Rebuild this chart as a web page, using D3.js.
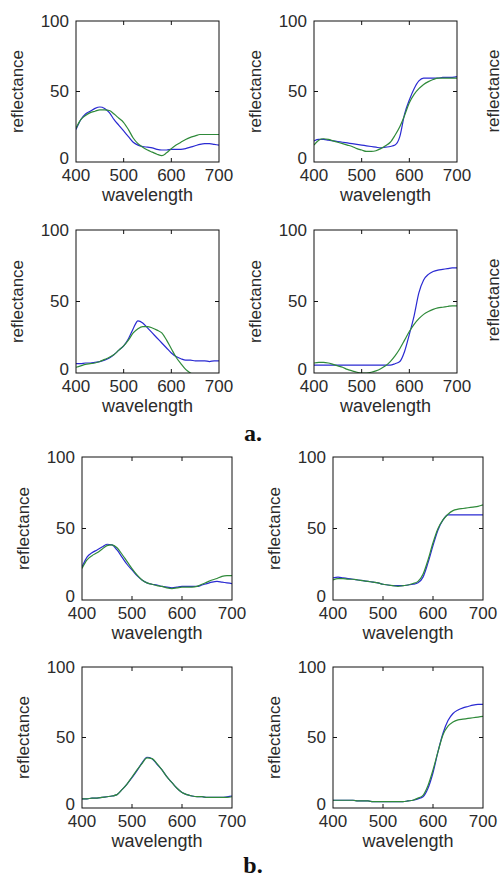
<!DOCTYPE html>
<html>
<head>
<meta charset="utf-8">
<script src="https://cdn.jsdelivr.net/npm/d3@7"></script>
<style>
  body { margin: 0; background: #fff; }
  svg text { font-family: "Liberation Sans", Arial, sans-serif; fill: #2b2b2b; }
  .tick-text { font-size: 17px; }
  .axis-title { font-size: 18px; }
  .ylab { font-size: 17px; }
  .sec { font-family: "Liberation Serif", "Times New Roman", serif; font-weight: bold; font-size: 24px; fill: #111; }
</style>
</head>
<body>
<div id="chart"></div>
<script>
// wavelength grid (nm) shared by every curve
const wavelengths = [400, 410, 420, 430, 440, 450, 460, 470, 480, 490, 500, 510, 520, 530, 540, 550,
  560, 570, 580, 590, 600, 610, 620, 630, 640, 650, 660, 670, 680, 690, 700];

const xTicks = [400, 500, 600, 700];
const yTicks = [0, 50, 100];

// a. panels
const a1Blue = [23, 30, 34, 36, 38, 39, 38, 35, 30, 26, 22, 18, 14, 12, 11, 10.5, 10, 9, 8.5, 8.5, 9, 9, 9, 9.5, 10.5, 11.5, 12.5, 13, 13, 12.5, 12];
const a1Green = [24, 30, 33, 35, 36, 37, 37, 36.5, 34, 31, 28, 23, 17, 13, 10.5, 8.5, 7, 5.5, 4.5, 6.5, 9.5, 12, 14, 16, 17.5, 18.5, 19.5, 19.5, 19.5, 19.5, 19.5];
const a2Blue = [15, 16, 16, 15.5, 15, 14.5, 14, 13.5, 13, 12.5, 12, 11.5, 11, 10.5, 10, 10.5, 11, 12, 18, 34, 44, 52, 57.5, 59.5, 59.5, 59.5, 59.5, 60, 60, 60, 60.5];
const a2Green = [12, 15.5, 16.5, 16, 15, 14, 13, 12, 11, 9.5, 8.5, 7.5, 7.5, 8, 9.5, 11.5, 14, 19, 25, 33, 42, 48, 52, 55, 57, 58.5, 59.5, 59.5, 59.5, 59.5, 59.5];
const a3Blue = [6.5, 6.5, 7, 7, 7.5, 8, 9, 10.5, 13, 16, 19, 24, 31, 36.5, 35, 31.5, 28, 24.5, 21, 17.5, 14, 11.5, 10, 9, 9, 8.5, 8.5, 8.5, 8, 8.5, 8.5];
const a3Green = [4, 5, 6, 6.5, 7, 8, 9.5, 11, 13, 16, 19, 23, 28, 31, 32.5, 32.5, 31.5, 30, 28, 23, 17, 11, 6.5, 2.5, 0, -2, -4, -5, -6, -7, -8];
const a4Blue = [5.5, 5.5, 5.5, 5.5, 5.5, 5.5, 5.5, 5.5, 5.5, 5.5, 5.5, 5.5, 5.5, 5.5, 5.5, 5.5, 5.5, 6.5, 8, 15, 27, 40, 56, 65, 69, 71, 72, 72.5, 73, 73.5, 73.5];
const a4Green = [7, 7.5, 7.5, 7, 6, 5, 4, 2.5, 1.5, 0.5, 0, 0, 0.5, 1.5, 3, 5, 8, 12, 17, 23, 29, 34, 38, 41, 43, 44.5, 45.5, 46, 46.5, 47, 47];

// b. panels
const b1Blue = [23, 30, 33, 35, 37, 39, 38.5, 35, 30, 25, 21, 17, 14, 12, 11, 10.5, 9.5, 9, 8.5, 9, 9.5, 9.5, 9.5, 9.5, 10.5, 11.5, 12.5, 13, 12.5, 12, 11.5];
const b1Green = [22, 28, 31, 33, 35.5, 38, 38.5, 36.5, 32, 27, 22, 17.5, 14, 12, 11, 10, 9.5, 8.5, 8, 8.5, 9, 9, 9, 9.5, 11, 12.5, 14, 15, 16.5, 17, 17];
const b2Blue = [15.5, 16, 15.5, 15, 14.5, 14, 13.5, 13, 12.5, 12, 11, 10.5, 10, 10, 10, 10.5, 11, 12, 16, 26, 38, 49, 56, 59.5, 59.5, 59.5, 59.5, 59.5, 59.5, 59.5, 59.5];
const b2Green = [14, 15, 15, 14.5, 14.5, 14, 13.5, 13, 12.5, 12, 11, 10.5, 10, 9.5, 10, 10.5, 11.5, 13, 18, 28, 40, 50, 56, 60, 62.5, 63.5, 64, 64.5, 65, 65.5, 66.5];
const b3Blue = [6.5, 6.5, 7, 7, 7.5, 8, 8.5, 9.5, 13, 17, 21.5, 26.5, 32, 36, 35, 31, 27, 22, 18, 14, 11, 9.5, 8.5, 8, 8, 7.5, 7.5, 7.5, 7.5, 8, 8.5];
const b3Green = [6.5, 6.5, 7, 7, 7.5, 8, 8.5, 9.5, 13, 17, 22, 27, 31.5, 35.5, 35, 31.5, 27, 22, 18, 14, 11, 9.5, 8.5, 8, 8, 7.5, 7.5, 7.5, 7.5, 7.5, 8];
const b4Blue = [5.5, 5.5, 5.5, 5.5, 5.5, 5, 5, 5, 4.5, 4.5, 4.5, 4.5, 4.5, 4.5, 4.5, 5, 5.5, 6.5, 8, 14, 25, 40, 53, 62, 67, 69.5, 71, 72, 73, 73.5, 73.5];
const b4Green = [5.5, 5.5, 5.5, 5.5, 5.5, 5, 5, 5, 4.5, 4.5, 4.5, 4.5, 4.5, 4.5, 4.5, 5, 5.5, 7, 9, 16, 27, 40, 52, 58, 61, 62.5, 63, 63.5, 64, 64.5, 65];

const W = 504, H = 879;
const blue = "#2a2ad2", green = "#2f8a3a";

// panel boxes: left, top, width, height
const panels = [
  { x: 76, y: 21, w: 143, h: 141, blue: a1Blue, green: a1Green },
  { x: 314, y: 21, w: 143, h: 141, blue: a2Blue, green: a2Green },
  { x: 76, y: 230, w: 143, h: 143, blue: a3Blue, green: a3Green },
  { x: 314, y: 230, w: 143, h: 143, blue: a4Blue, green: a4Green },
  { x: 82, y: 457, w: 150, h: 143, blue: b1Blue, green: b1Green },
  { x: 333, y: 457, w: 150, h: 143, blue: b2Blue, green: b2Green },
  { x: 82, y: 667, w: 150, h: 141, blue: b3Blue, green: b3Green },
  { x: 333, y: 667, w: 150, h: 141, blue: b4Blue, green: b4Green }
];

let svg = d3.select("#chart").append("svg")
  .attr("width", W)
  .attr("height", H);

panels.forEach(function (p, i) {
  let g = svg.append("g").attr("transform", "translate(" + p.x + "," + p.y + ")");
  let x = d3.scaleLinear().domain([400, 700]).range([0, p.w]);
  let y = d3.scaleLinear().domain([0, 100]).range([p.h, 0]);

  let clipId = "clip" + i;
  g.append("clipPath").attr("id", clipId)
    .append("rect").attr("width", p.w).attr("height", p.h);

  let line = d3.line()
    .x(function (d, k) { return x(wavelengths[k]); })
    .y(function (d) { return y(d); })
    .curve(d3.curveMonotoneX);

  [[p.blue, blue], [p.green, green]].forEach(function (s) {
    g.append("path")
      .attr("d", line(s[0]))
      .attr("clip-path", "url(#" + clipId + ")")
      .attr("fill", "none")
      .attr("stroke", s[1])
      .attr("stroke-width", 1.2);
  });

  // box
  g.append("rect")
    .attr("width", p.w).attr("height", p.h)
    .attr("fill", "none").attr("stroke", "#111").attr("stroke-width", 1);

  // inward ticks on all sides (matlab style)
  xTicks.slice(1, -1).forEach(function (v) {
    g.append("line").attr("x1", x(v)).attr("x2", x(v)).attr("y1", p.h).attr("y2", p.h - 4).attr("stroke", "#111");
    g.append("line").attr("x1", x(v)).attr("x2", x(v)).attr("y1", 0).attr("y2", 4).attr("stroke", "#111");
  });
  yTicks.slice(1, -1).forEach(function (v) {
    g.append("line").attr("x1", 0).attr("x2", 4).attr("y1", y(v)).attr("y2", y(v)).attr("stroke", "#111");
    g.append("line").attr("x1", p.w).attr("x2", p.w - 4).attr("y1", y(v)).attr("y2", y(v)).attr("stroke", "#111");
  });

  // tick labels
  g.selectAll(".xt").data(xTicks).enter().append("text")
    .attr("class", "tick-text")
    .attr("x", function (d) { return x(d); })
    .attr("y", p.h + 19)
    .attr("text-anchor", "middle")
    .text(function (d) { return d; });

  g.selectAll(".yt").data(yTicks).enter().append("text")
    .attr("class", "tick-text")
    .attr("x", -7)
    .attr("y", function (d) { return d === 0 ? y(d) + 2 : y(d); })
    .attr("dy", function (d) { return d === 0 ? "0em" : "0.35em"; })
    .attr("text-anchor", "end")
    .text(function (d) { return d; });

  g.append("text")
    .attr("class", "axis-title")
    .attr("x", p.w / 2)
    .attr("y", p.h + 39)
    .attr("text-anchor", "middle")
    .text("wavelength");

  g.append("text")
    .attr("class", "ylab")
    .attr("transform", "translate(-53," + (p.h / 2) + ") rotate(-90)")
    .attr("text-anchor", "middle")
    .text("reflectance");
});

// cut-off label from a third column on the right
[21, 230].forEach(function (top) {
  svg.append("text")
    .attr("class", "ylab")
    .attr("transform", "translate(499," + (top + 70) + ") rotate(-90)")
    .attr("text-anchor", "middle")
    .text("reflectance");
});

svg.append("text").attr("class", "sec").attr("x", 253).attr("y", 441).attr("text-anchor", "middle").text("a.");
svg.append("text").attr("class", "sec").attr("x", 253).attr("y", 873).attr("text-anchor", "middle").text("b.");
</script>
</body>
</html>
